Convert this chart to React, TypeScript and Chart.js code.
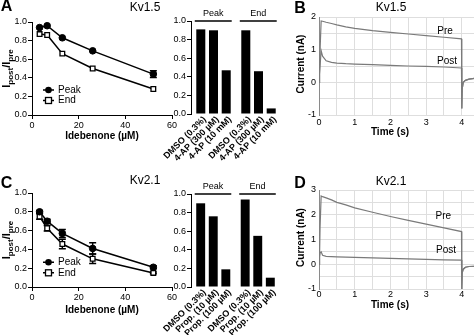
import React, { useEffect, useRef } from "react";
import { Chart, registerables } from "chart.js";

Chart.register(...registerables);

const FAMILY = '"Liberation Sans", Arial, Helvetica, sans-serif';

// ---------- Concentration–response (panels A, C) ----------
const concentrations = [3.25, 6.5, 13, 26, 52];
const kv15Peak = [0.94, 0.96, 0.83, 0.69, 0.44];
const kv15PeakErr = [0, 0, 0, 0, 0.036];
const kv15End = [0.87, 0.86, 0.66, 0.5, 0.28];
const kv15EndErr = [0, 0, 0, 0, 0];
const kv21Peak = [0.8, 0.7, 0.57, 0.41, 0.21];
const kv21PeakErr = [0.015, 0.02, 0.043, 0.06, 0.015];
const kv21End = [0.75, 0.625, 0.457, 0.3, 0.15];
const kv21EndErr = [0.03, 0.03, 0.05, 0.05, 0.01];
const doseTicks = [0, 20, 40, 60];

// ---------- Bar panels ----------
const barGroups = ["Peak", "End"];
const kv15BarLabels = ["DMSO (0.3%)", "4-AP (300 µM)", "4-AP (10 mM)"];
const kv15BarDMSO = [0.91, 0.9];
const kv15Bar4AP300 = [0.9, 0.46];
const kv15Bar4AP10 = [0.47, 0.06];
const kv21BarLabels = ["DMSO (0.3%)", "Prop. (10 µM)", "Prop. (100 µM)"];
const kv21BarDMSO = [0.9, 0.94];
const kv21BarProp10 = [0.76, 0.55];
const kv21BarProp100 = [0.19, 0.1];

// ---------- Current traces (panels B, D) ----------
const traceTime = [0, 0.015, 0.03, 0.06, 0.1, 0.2, 0.35, 0.5, 0.75, 1, 1.5, 2, 2.5, 3, 3.5, 3.99, 4.0, 4.01, 4.04, 4.1, 4.2, 4.35, 4.5];
const kv15Pre = [0, 0.25, 1.0, 1.88, 1.87, 1.84, 1.8, 1.76, 1.7, 1.65, 1.58, 1.53, 1.48, 1.43, 1.38, 1.33, -0.8, -0.2, 0.0, 0.06, 0.1, 0.12, 0.13];
const kv15Post = [0, 0.25, 0.5, 0.97, 0.8, 0.66, 0.61, 0.59, 0.57, 0.56, 0.54, 0.52, 0.5, 0.49, 0.47, 0.44, -0.8, -0.2, 0.0, 0.06, 0.1, 0.12, 0.13];
const kv21Pre = [0, 0.3, 1.5, 2.76, 2.73, 2.68, 2.6, 2.5, 2.4, 2.28, 2.1, 1.93, 1.77, 1.62, 1.47, 1.32, -1.0, -0.35, -0.2, -0.12, -0.09, -0.08, -0.07];
const kv21Post = [0, 0.3, 0.45, 0.5, 0.36, 0.32, 0.31, 0.3, 0.29, 0.28, 0.26, 0.24, 0.22, 0.2, 0.18, 0.17, -1.0, -0.35, -0.2, -0.12, -0.09, -0.08, -0.07];

// ---------- helpers ----------
function drawText(
  ctx: CanvasRenderingContext2D,
  text: string,
  x: number,
  y: number,
  size: number,
  bold = false,
  align: CanvasTextAlign = "center",
  angle = 0
) {
  ctx.save();
  ctx.translate(x, y);
  if (angle) ctx.rotate(angle);
  ctx.font = `${bold ? "bold " : ""}${size}px ${FAMILY}`;
  ctx.fillStyle = "#000";
  ctx.textAlign = align;
  ctx.textBaseline = "middle";
  ctx.fillText(text, 0, 0);
  ctx.restore();
}

function drawRatioLabel(ctx: CanvasRenderingContext2D, x: number, y: number) {
  const parts: [string, number, number][] = [
    ["I", 11, 0],
    ["post", 8, 3],
    ["/I", 11, 0],
    ["pre", 8, 3],
  ];
  ctx.save();
  ctx.translate(x, y);
  ctx.rotate(-Math.PI / 2);
  ctx.fillStyle = "#000";
  ctx.textAlign = "left";
  ctx.textBaseline = "alphabetic";
  const widths = parts.map(([t, s]) => {
    ctx.font = `bold ${s}px ${FAMILY}`;
    return ctx.measureText(t).width;
  });
  const total = widths.reduce((a, b) => a + b, 0);
  let cx = -total / 2;
  parts.forEach(([t, s, dy], i) => {
    ctx.font = `bold ${s}px ${FAMILY}`;
    ctx.fillText(t, cx, 4 + dy);
    cx += widths[i];
  });
  ctx.restore();
}

const tickFont = { family: FAMILY, size: 9 };

type Build = () => any;

function ChartBox(props: { left: number; top: number; width: number; height: number; build: Build }) {
  const ref = useRef<HTMLCanvasElement>(null);
  useEffect(() => {
    const chart = new Chart(ref.current as HTMLCanvasElement, props.build());
    return () => chart.destroy();
  }, []);
  return (
    <canvas
      ref={ref}
      width={props.width}
      height={props.height}
      style={{ position: "absolute", left: props.left, top: props.top, width: props.width, height: props.height }}
    />
  );
}

// ---------- dose-response builder ----------
type DoseSpec = {
  peak: number[];
  peakErr: number[];
  end: number[];
  endErr: number[];
  letter: string;
  title: string;
  padTop: number;
  xHeight: number;
  letterY: number;
  titleY: number;
  legendY: number;
  xTitlePad: number;
};

function buildDose(p: DoseSpec) {
  const errPlugin = {
    id: "errorBars",
    beforeDatasetsDraw(chart: any) {
      const ctx = chart.ctx as CanvasRenderingContext2D;
      const xs = chart.scales.x;
      const ys = chart.scales.y;
      ctx.save();
      ctx.strokeStyle = "#000";
      ctx.lineWidth = 1.5;
      ([[p.peak, p.peakErr], [p.end, p.endErr]] as number[][][]).forEach(([vals, errs]) => {
        vals.forEach((v, i) => {
          const e = errs[i];
          if (!e) return;
          const x = xs.getPixelForValue(concentrations[i]);
          const y1 = ys.getPixelForValue(v + e);
          const y2 = ys.getPixelForValue(v - e);
          ctx.beginPath();
          ctx.moveTo(x, y1);
          ctx.lineTo(x, y2);
          ctx.moveTo(x - 3.5, y1);
          ctx.lineTo(x + 3.5, y1);
          ctx.moveTo(x - 3.5, y2);
          ctx.lineTo(x + 3.5, y2);
          ctx.stroke();
        });
      });
      ctx.restore();
    },
  };
  const textPlugin = {
    id: "doseText",
    afterDraw(chart: any) {
      const ctx = chart.ctx as CanvasRenderingContext2D;
      const area = chart.chartArea;
      drawText(ctx, p.letter, 6.5, p.letterY, 16, true);
      drawText(ctx, p.title, 145, p.titleY, 12);
      drawRatioLabel(ctx, 6, (area.top + area.bottom) / 2);
      // legend
      ctx.save();
      ctx.strokeStyle = "#000";
      ctx.lineWidth = 1.5;
      const y1 = p.legendY;
      const y2 = p.legendY + 10.5;
      ctx.beginPath();
      ctx.moveTo(43, y1);
      ctx.lineTo(54, y1);
      ctx.moveTo(43, y2);
      ctx.lineTo(54, y2);
      ctx.stroke();
      ctx.fillStyle = "#000";
      ctx.beginPath();
      ctx.arc(48.5, y1, 3.3, 0, Math.PI * 2);
      ctx.fill();
      ctx.fillStyle = "#fff";
      ctx.lineWidth = 1.3;
      ctx.fillRect(45.5, y2 - 3, 6, 6);
      ctx.strokeRect(45.5, y2 - 3, 6, 6);
      ctx.restore();
      drawText(ctx, "Peak", 58, y1, 10, false, "left");
      drawText(ctx, "End", 58, y2, 10, false, "left");
    },
  };
  return {
    type: "line",
    data: {
      datasets: [
        {
          label: "Peak",
          data: concentrations.map((x, i) => ({ x, y: p.peak[i] })),
          borderColor: "#000",
          backgroundColor: "#000",
          borderWidth: 1.5,
          pointStyle: "circle",
          pointRadius: 3.3,
          pointBackgroundColor: "#000",
          pointBorderColor: "#000",
          pointBorderWidth: 1,
        },
        {
          label: "End",
          data: concentrations.map((x, i) => ({ x, y: p.end[i] })),
          borderColor: "#000",
          backgroundColor: "#fff",
          borderWidth: 1.5,
          pointStyle: "rect",
          pointRadius: 3.3,
          pointBackgroundColor: "#fff",
          pointBorderColor: "#000",
          pointBorderWidth: 1.3,
        },
      ],
    },
    options: {
      responsive: false,
      animation: false,
      events: [],
      layout: { padding: { top: p.padTop, right: 10, left: 0, bottom: 0 } },
      plugins: { legend: { display: false }, tooltip: { enabled: false } },
      scales: {
        x: {
          type: "linear",
          min: 0,
          max: 60,
          afterBuildTicks: (s: any) => {
            s.ticks = doseTicks.map((v) => ({ value: v }));
          },
          ticks: { font: tickFont, color: "#000", padding: 1, maxRotation: 0, autoSkip: false },
          grid: { drawOnChartArea: false, drawTicks: true, tickLength: 4, color: "#000" },
          border: { color: "#000", width: 1 },
          title: {
            display: true,
            text: "Idebenone (µM)",
            color: "#000",
            font: { family: FAMILY, size: 10, weight: "bold" },
            padding: { top: 0, bottom: p.xTitlePad },
          },
          afterFit: (s: any) => {
            s.height = p.xHeight;
          },
        },
        y: {
          min: 0,
          max: 1,
          ticks: {
            stepSize: 0.2,
            font: tickFont,
            color: "#000",
            padding: 1,
            autoSkip: false,
            callback: (v: any) => Number(v).toFixed(1),
          },
          grid: { drawOnChartArea: false, drawTicks: true, tickLength: 4, color: "#000" },
          border: { color: "#000", width: 1 },
          afterFit: (s: any) => {
            s.width = 32;
          },
        },
      },
    },
    plugins: [errPlugin, textPlugin],
  };
}

// ---------- bar builder ----------
type BarSpec = {
  labels: string[];
  series: number[][];
  padTop: number;
  padBottom: number;
  padRight: number;
};

function buildBars(p: BarSpec) {
  const textPlugin = {
    id: "barText",
    afterDraw(chart: any) {
      const ctx = chart.ctx as CanvasRenderingContext2D;
      const ys = chart.scales.y;
      const yTop = ys.getPixelForValue(1);
      const yBottom = ys.getPixelForValue(0);
      const m0 = chart.getDatasetMeta(0);
      const m2 = chart.getDatasetMeta(p.series.length - 1);
      barGroups.forEach((g, j) => {
        const b0 = m0.data[j];
        const b2 = m2.data[j];
        const l = b0.x - b0.width / 2 - 1.5;
        const r = b2.x + b2.width / 2 + 1;
        ctx.save();
        ctx.strokeStyle = "#000";
        ctx.lineWidth = 1.5;
        ctx.beginPath();
        ctx.moveTo(l, yTop);
        ctx.lineTo(r, yTop);
        ctx.stroke();
        ctx.restore();
        drawText(ctx, g, (l + r) / 2, yTop - 7, 9);
      });
      p.series.forEach((_, i) => {
        const meta = chart.getDatasetMeta(i);
        meta.data.forEach((bar: any) => {
          drawText(ctx, p.labels[i], bar.x + 4, yBottom + 4, 9, true, "right", -Math.PI / 4);
        });
      });
    },
  };
  return {
    type: "bar",
    data: {
      labels: barGroups,
      datasets: p.series.map((s, i) => ({
        label: p.labels[i],
        data: s,
        backgroundColor: "#000",
        borderWidth: 0,
        categoryPercentage: 0.847,
        barPercentage: 0.71,
      })),
    },
    options: {
      responsive: false,
      animation: false,
      events: [],
      layout: { padding: { top: p.padTop, bottom: p.padBottom, right: p.padRight, left: 0 } },
      plugins: { legend: { display: false }, tooltip: { enabled: false } },
      scales: {
        x: { display: false },
        y: {
          min: 0,
          max: 1,
          ticks: {
            stepSize: 0.2,
            font: tickFont,
            color: "#000",
            padding: 1,
            autoSkip: false,
            callback: (v: any) => Number(v).toFixed(1),
          },
          grid: { drawOnChartArea: false, drawTicks: true, tickLength: 4, color: "#000" },
          border: { color: "#000", width: 1 },
          afterFit: (s: any) => {
            s.width = 43;
          },
        },
      },
    },
    plugins: [textPlugin],
  };
}

// ---------- trace builder ----------
type TraceSpec = {
  pre: number[];
  post: number[];
  yMin: number;
  yMax: number;
  padTop: number;
  xHeight: number;
  tickPad: number;
  letter: string;
  letterY: number;
  title: string;
  titleY: number;
  preX: number;
  preY: number;
  postX: number;
  postY: number;
  xTitleY: number;
};

function buildTrace(p: TraceSpec) {
  const textPlugin = {
    id: "traceText",
    afterDraw(chart: any) {
      const ctx = chart.ctx as CanvasRenderingContext2D;
      const area = chart.chartArea;
      drawText(ctx, p.letter, 20, p.letterY, 16, true);
      drawText(ctx, p.title, 111, p.titleY, 12);
      drawText(ctx, "Pre", p.preX, p.preY, 10);
      drawText(ctx, "Post", p.postX, p.postY, 10);
      drawText(ctx, "Time (s)", 110, p.xTitleY, 10, true);
      drawText(ctx, "Current (nA)", 21.7, (area.top + area.bottom) / 2 - 2, 10, true, "center", -Math.PI / 2);
    },
  };
  const mk = (label: string, vals: number[]) => ({
    label,
    data: traceTime.map((t, i) => ({ x: t, y: vals[i] })),
    borderColor: "#7a7a7a",
    borderWidth: 1.2,
    pointRadius: 0,
    tension: 0,
  });
  return {
    type: "line",
    data: { datasets: [mk("Pre", p.pre), mk("Post", p.post)] },
    options: {
      responsive: false,
      animation: false,
      events: [],
      layout: { padding: { top: p.padTop, right: 20.3, left: 0, bottom: 0 } },
      plugins: { legend: { display: false }, tooltip: { enabled: false } },
      scales: {
        x: {
          type: "linear",
          min: 0,
          max: 4.5,
          ticks: {
            stepSize: 0.5,
            autoSkip: false,
            maxRotation: 0,
            font: tickFont,
            color: "#000",
            padding: p.tickPad,
            callback: (v: any) => (Number.isInteger(Number(v)) ? String(v) : ""),
          },
          grid: { color: "#dedede", lineWidth: 1, drawTicks: false },
          border: { display: false },
          afterFit: (s: any) => {
            s.height = p.xHeight;
          },
        },
        y: {
          min: p.yMin,
          max: p.yMax,
          ticks: {
            stepSize: 0.5,
            autoSkip: false,
            font: tickFont,
            color: "#000",
            padding: 3,
            callback: (v: any) => (Number.isInteger(Number(v)) ? String(v) : ""),
          },
          grid: { color: "#dedede", lineWidth: 1, drawTicks: false },
          border: { display: true, color: "#8a8a8a", width: 1 },
          afterFit: (s: any) => {
            s.width = 39;
          },
        },
      },
    },
    plugins: [textPlugin],
  };
}

export default function App() {
  return (
    <div
      style={{
        position: "fixed",
        left: 0,
        top: 0,
        width: 474,
        height: 335,
        overflow: "hidden",
        background: "#fff",
      }}
    >
      <ChartBox
        left={0}
        top={0}
        width={182}
        height={150}
        build={() =>
          buildDose({
            peak: kv15Peak,
            peakErr: kv15PeakErr,
            end: kv15End,
            endErr: kv15EndErr,
            letter: "A",
            title: "Kv1.5",
            padTop: 22,
            xHeight: 35,
            letterY: 6.5,
            titleY: 7.5,
            legendY: 90,
            xTitlePad: 7.3,
          })
        }
      />
      <ChartBox
        left={0}
        top={165}
        width={182}
        height={170}
        build={() =>
          buildDose({
            peak: kv21Peak,
            peakErr: kv21PeakErr,
            end: kv21End,
            endErr: kv21EndErr,
            letter: "C",
            title: "Kv2.1",
            padTop: 28,
            xHeight: 48,
            letterY: 19,
            titleY: 16,
            legendY: 97.3,
            xTitlePad: 18.3,
          })
        }
      />
      <ChartBox
        left={148}
        top={0}
        width={136}
        height={165}
        build={() =>
          buildBars({
            labels: kv15BarLabels,
            series: [kv15BarDMSO, kv15Bar4AP300, kv15Bar4AP10],
            padTop: 21,
            padBottom: 51,
            padRight: 3,
          })
        }
      />
      <ChartBox
        left={148}
        top={165}
        width={136}
        height={170}
        build={() =>
          buildBars({
            labels: kv21BarLabels,
            series: [kv21BarDMSO, kv21BarProp10, kv21BarProp100],
            padTop: 29,
            padBottom: 48,
            padRight: 4,
          })
        }
      />
      <ChartBox
        left={280}
        top={0}
        width={220}
        height={165}
        build={() =>
          buildTrace({
            pre: kv15Pre,
            post: kv15Post,
            yMin: -1,
            yMax: 2,
            padTop: 17,
            xHeight: 50,
            tickPad: 2,
            letter: "B",
            letterY: 8.3,
            title: "Kv1.5",
            titleY: 7.5,
            preX: 165,
            preY: 31,
            postX: 167,
            postY: 61,
            xTitleY: 132.7,
          })
        }
      />
      <ChartBox
        left={280}
        top={165}
        width={220}
        height={170}
        build={() =>
          buildTrace({
            pre: kv21Pre,
            post: kv21Post,
            yMin: -1,
            yMax: 3,
            padTop: 25,
            xHeight: 46,
            tickPad: 0,
            letter: "D",
            letterY: 18.5,
            title: "Kv2.1",
            titleY: 16.7,
            preX: 163.3,
            preY: 51.7,
            postX: 166,
            postY: 85.7,
            xTitleY: 140,
          })
        }
      />
    </div>
  );
}
